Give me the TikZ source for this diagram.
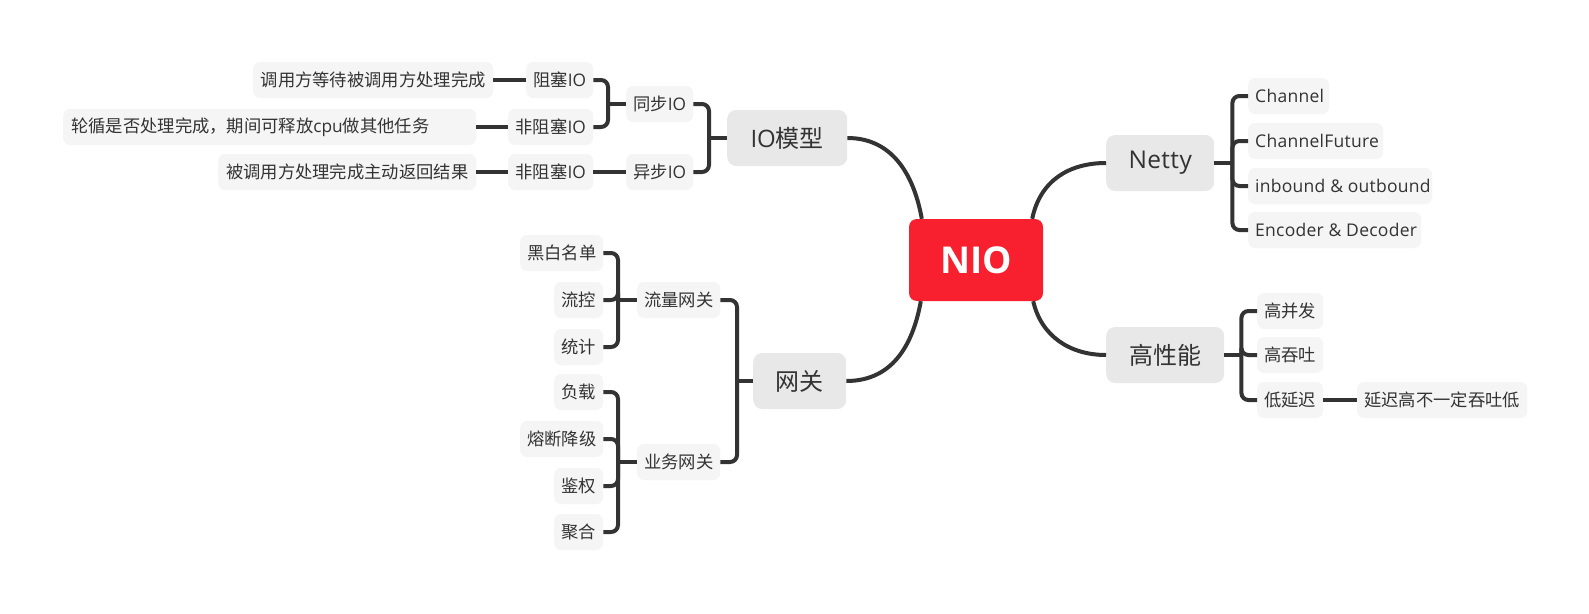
\documentclass[tikz,border=0pt]{standalone}
\usepackage{fontspec}
\setmainfont{Noto Sans CJK SC}
\newfontfamily\lat{Open Sans}
\newfontfamily\latw{Open Sans}[LetterSpace=1.5]
\newfontfamily\latinb{Open Sans}
\usetikzlibrary{calc}
\definecolor{tc}{HTML}{333333}
\definecolor{lc}{HTML}{333333}
\definecolor{leaffill}{HTML}{F5F5F5}
\definecolor{brfill}{HTML}{E8E8E8}
\definecolor{nioRed}{HTML}{F8202E}
\newcommand{\lbox}[2]{\makebox[#1pt][l]{#2}}
\tikzset{
  conn/.style={draw=lc, line width=4pt},
  brk/.style={draw=lc, line width=4pt, rounded corners=7pt},
  leaf/.style={fill=leaffill, rounded corners=7pt, minimum height=36pt, inner xsep=0pt, inner ysep=0pt,
    font=\fontsize{17.3}{20}\selectfont, text=tc, anchor=west},
  latleaf/.style={leaf, font=\latw\fontsize{17.5}{20}\selectfont, inner xsep=7pt},
  branch/.style={fill=brfill, rounded corners=9pt, minimum height=56pt, inner xsep=0pt, inner ysep=0pt,
    font=\fontsize{24}{28}\selectfont, text=tc, anchor=west},
  nio/.style={fill=nioRed, rounded corners=8pt, minimum width=134pt, minimum height=82pt, inner sep=0pt,
    font=\latinb\bfseries\fontsize{37}{40}\selectfont, text=white},
}
\begin{document}
\begin{tikzpicture}[x=1pt,y=-1pt]
\useasboundingbox[fill=white] (0,0) rectangle (1589,613);

% centre
\node[nio] (nio) at (976,260) {NIO};

% IO model group
\node[branch, minimum width=120pt] (io) at (727,138) {{\lat IO}模型};
\node[leaf, minimum width=67pt] (s1) at (626,104) {同步{\lat IO}};
\node[leaf, minimum width=67pt] (s2) at (626,172) {异步{\lat IO}};
\node[leaf, minimum width=67pt] (b1) at (526,80) {阻塞{\lat IO}};
\node[leaf, minimum width=85pt] (b2) at (508,127) {非阻塞{\lat IO}};
\node[leaf, minimum width=85pt] (b3) at (508,172) {非阻塞{\lat IO}};
\node[leaf, minimum width=240pt] (t1) at (253,80) {调用方等待被调用方处理完成};
\node[leaf, inner xsep=8pt] (t2) at (63,127) {\lbox{397}{轮循是否处理完成，期间可释放{\lat cpu}做其他任务}};
\node[leaf, minimum width=258pt] (t3) at (218,172) {被调用方处理完成主动返回结果};

% gateway group
\node[branch, minimum width=93pt] (gw) at (753,381) {网关};
\node[leaf, minimum width=83pt] (gw1) at (637,300) {流量网关};
\node[leaf, minimum width=83pt] (gw2) at (637,462) {业务网关};
\node[leaf, minimum width=83pt] (g1) at (520,253) {黑白名单};
\node[leaf, minimum width=49pt] (g2) at (554,300) {流控};
\node[leaf, minimum width=49pt] (g3) at (554,347) {统计};
\node[leaf, minimum width=49pt] (g4) at (554,392) {负载};
\node[leaf, minimum width=83pt] (g5) at (520,439) {熔断降级};
\node[leaf, minimum width=49pt] (g6) at (554,486) {鉴权};
\node[leaf, minimum width=49pt] (g7) at (554,532) {聚合};

% Netty group
\node[branch, minimum width=108pt, font=\latw\fontsize{24.5}{28}\selectfont] (netty) at (1106,163) {Netty};
\node[latleaf] (n1) at (1248,96) {\lbox{67}{Channel}};
\node[latleaf] (n2) at (1248,141) {\lbox{121}{ChannelFuture}};
\node[latleaf] (n3) at (1248,186) {\lbox{170}{inbound \& outbound}};
\node[latleaf] (n4) at (1248,230) {\lbox{159}{Encoder \& Decoder}};

% performance group
\node[branch, minimum width=118pt] (perf) at (1106,355) {高性能};
\node[leaf, minimum width=66pt] (p1) at (1257,311) {高并发};
\node[leaf, minimum width=66pt] (p2) at (1257,355) {高吞吐};
\node[leaf, minimum width=66pt] (p3) at (1257,400) {低延迟};
\node[leaf, minimum width=170pt] (p4) at (1357,400) {延迟高不一定吞吐低};

% curves from centre
\draw[conn] ($(nio.north west)+(13,0)$) .. controls +(-7,-39) and +(48,0) .. (io.east);
\draw[conn] ($(nio.south west)+(12,0)$) .. controls +(-7,39) and +(49,0) .. (gw.east);
\draw[conn] ($(nio.north east)+(-11,0)$) .. controls +(8,-39) and +(-36,0) .. (netty.west);
\draw[conn] ($(nio.south east)+(-10,0)$) .. controls +(8,35) and +(-36,0) .. (perf.west);

% IO brackets
\draw[conn] (io.west) -- ++(-18,0) coordinate (jio);
\draw[brk] (jio) |- (s1.east);
\draw[brk] (jio) |- (s2.east);
\draw[conn] (s1.west) -- ++(-18,0) coordinate (js1);
\draw[brk] (js1) |- (b1.east);
\draw[brk] (js1) |- (b2.east);
\draw[conn] (s2.west) -- (b3.east);
\draw[conn] (b1.west) -- (t1.east);
\draw[conn] (b2.west) -- (t2.east);
\draw[conn] (b3.west) -- (t3.east);

% gateway brackets
\draw[conn] (gw.west) -- ++(-16,0) coordinate (jgw);
\draw[brk] (jgw) |- (gw1.east);
\draw[brk] (jgw) |- (gw2.east);
\draw[conn] (gw1.west) -- ++(-19,0) coordinate (jg1);
\draw[brk] (jg1) |- (g1.east);
\draw[brk] (jg1) |- (g2.east);
\draw[brk] (jg1) |- (g3.east);
\draw[conn] (gw2.west) -- ++(-19,0) coordinate (jg2);
\draw[brk] (jg2) |- (g4.east);
\draw[brk] (jg2) |- (g5.east);
\draw[brk] (jg2) |- (g6.east);
\draw[brk] (jg2) |- (g7.east);

% Netty brackets
\draw[conn] (netty.east) -- ++(18,0) coordinate (jn);
\draw[brk] (jn) |- (n1.west);
\draw[brk] (jn) |- (n2.west);
\draw[brk] (jn) |- (n3.west);
\draw[brk] (jn) |- (n4.west);

% performance brackets
\draw[conn] (perf.east) -- ++(17,0) coordinate (jp);
\draw[brk] (jp) |- (p1.west);
\draw[brk] (jp) |- (p2.west);
\draw[brk] (jp) |- (p3.west);
\draw[conn] (p3.east) -- (p4.west);
\end{tikzpicture}
\end{document}
